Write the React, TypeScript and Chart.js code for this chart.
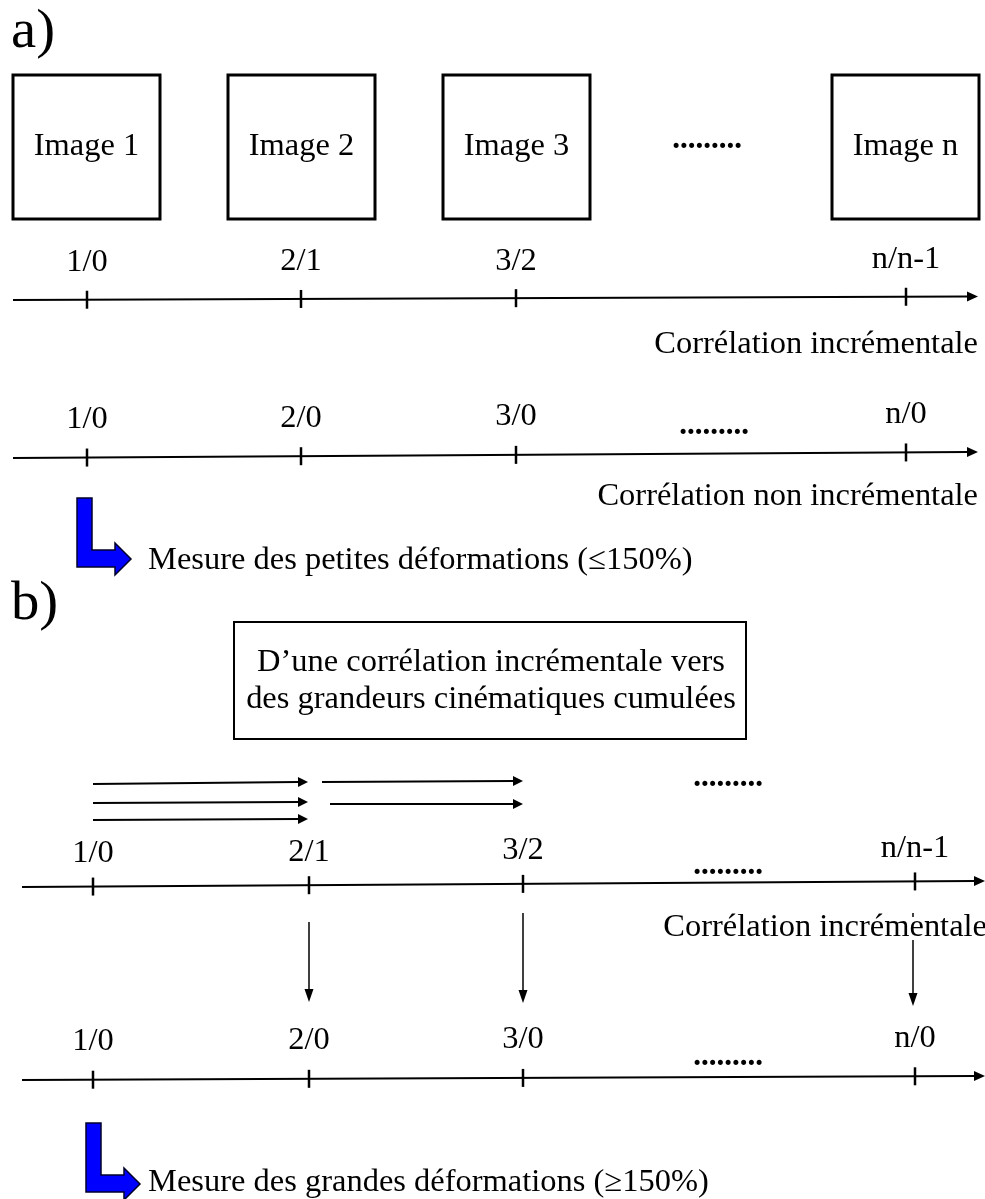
import React, { useEffect, useRef } from "react";
import { Chart, registerables } from "chart.js";

Chart.register(...registerables);

// ---- content ----
const imageLabels = ["Image 1", "Image 2", "Image 3", "Image n"];
const incrementalLabels = ["1/0", "2/1", "3/2", "n/n-1"];
const cumulativeLabels = ["1/0", "2/0", "3/0", "n/0"];
const axisTitles = ["Corrélation incrémentale", "Corrélation non incrémentale"];
const measureTexts = [
  "Mesure des petites déformations (\u2264150%)",
  "Mesure des grandes déformations (\u2265150%)",
];
const boxTextLines = [
  "D\u2019une corrélation incrémentale vers",
  "des grandeurs cinématiques cumulées",
];
const panelLetters = ["a)", "b)"];
const dots = ".........";

// ---- layout (diagram units = pixels of the 985x1199 page) ----
const aTickX = [87, 301, 516, 906];
const bTickX = [93, 309, 523, 915];
const boxLeft = [13, 228, 443, 832];

const FONT = "'Liberation Serif', 'DejaVu Serif', serif";
const TXT = 32;
const HSCALE = 1.015;

const diagramPlugin = {
  id: "diagram",
  afterDraw(chart: any) {
    const ctx: CanvasRenderingContext2D = chart.ctx;
    const xs = chart.scales.x;
    const ys = chart.scales.y;
    const X = (v: number) => xs.getPixelForValue(v);
    const Y = (v: number) => ys.getPixelForValue(v);

    const line = (x1: number, y1: number, x2: number, y2: number, w = 2) => {
      ctx.save();
      ctx.strokeStyle = "#000";
      ctx.lineWidth = w;
      ctx.beginPath();
      ctx.moveTo(X(x1), Y(y1));
      ctx.lineTo(X(x2), Y(y2));
      ctx.stroke();
      ctx.restore();
    };
    const arrow = (x1: number, y1: number, x2: number, y2: number, w = 2, len = 11, half = 5) => {
      const ang = Math.atan2(Y(y2) - Y(y1), X(x2) - X(x1));
      const bx = X(x2) - len * Math.cos(ang);
      const by = Y(y2) - len * Math.sin(ang);
      ctx.save();
      ctx.strokeStyle = "#000";
      ctx.lineWidth = w;
      ctx.beginPath();
      ctx.moveTo(X(x1), Y(y1));
      ctx.lineTo(bx, by);
      ctx.stroke();
      ctx.fillStyle = "#000";
      ctx.beginPath();
      ctx.moveTo(X(x2), Y(y2));
      ctx.lineTo(bx + half * Math.sin(ang), by - half * Math.cos(ang));
      ctx.lineTo(bx - half * Math.sin(ang), by + half * Math.cos(ang));
      ctx.closePath();
      ctx.fill();
      ctx.restore();
    };
    const text = (s: string, x: number, y: number, align: CanvasTextAlign = "center", size = TXT, weight = "normal", hs = HSCALE) => {
      ctx.save();
      ctx.fillStyle = "#000";
      ctx.font = `${weight} ${size}px ${FONT}`;
      ctx.textAlign = align;
      ctx.textBaseline = "middle";
      ctx.translate(X(x), Y(y));
      ctx.scale(hs, 1);
      ctx.fillText(s, 0, 0);
      ctx.restore();
    };
    const rect = (x1: number, y1: number, x2: number, y2: number, w: number) => {
      ctx.save();
      ctx.strokeStyle = "#000";
      ctx.lineWidth = w;
      ctx.strokeRect(X(x1), Y(y1), X(x2) - X(x1), Y(y2) - Y(y1));
      ctx.restore();
    };
    const blueL = (dx: number, dy: number) => {
      const pts = [
        [77, 498], [92, 498], [92, 550], [115, 550], [115, 543],
        [131, 559], [115, 575], [115, 567], [77, 567],
      ];
      ctx.save();
      ctx.beginPath();
      pts.forEach(([px, py], i) => {
        if (i === 0) ctx.moveTo(X(px + dx), Y(py + dy));
        else ctx.lineTo(X(px + dx), Y(py + dy));
      });
      ctx.closePath();
      ctx.fillStyle = "#0000ff";
      ctx.fill();
      ctx.strokeStyle = "#00002a";
      ctx.lineWidth = 1.5;
      ctx.stroke();
      ctx.restore();
    };
    // axis with ticks and labels (slightly sloped as in the original)
    const axis = (x0: number, y0: number, x1: number, y1: number, ticks: number[], labels: string[], labelDy: number) => {
      arrow(x0, y0, x1, y1, 2, 11, 5);
      const yAt = (x: number) => y0 + ((y1 - y0) * (x - x0)) / (x1 - x0);
      ticks.forEach((tx, i) => {
        const ty = yAt(tx);
        line(tx, ty - 9, tx, ty + 9, 2.5);
        text(labels[i], tx, ty + labelDy);
      });
    };

    // ===== panel a =====
    text(panelLetters[0], 11, 33, "left", 54, "normal", 1.05);
    boxLeft.forEach((bl, i) => {
      rect(bl, 75, bl + 147, 219, 3);
      text(imageLabels[i], bl + 73.5, 147);
    });
    text(dots, 707, 140, "center", 31, "bold", 1);

    axis(13, 300, 978, 296.5, aTickX, incrementalLabels, -37);
    text(axisTitles[0], 978, 345, "right");

    axis(13, 458, 978, 452, aTickX, cumulativeLabels, -38);
    text(dots, 714, 426, "center", 31, "bold", 1);
    text(axisTitles[1], 978, 497, "right");

    blueL(0, 0);
    text(measureTexts[0], 148, 561, "left");

    // ===== panel b =====
    text(panelLetters[1], 11, 605, "left", 54, "normal", 1.05);
    rect(234, 622, 746, 739, 2);
    text(boxTextLines[0], 491, 663);
    text(boxTextLines[1], 491, 700);

    // incremental displacement arrows
    arrow(93, 784, 308, 782, 2, 10, 5);
    arrow(93, 803, 308, 802, 2, 10, 5);
    arrow(93, 820, 308, 819, 2, 10, 5);
    arrow(322, 782, 523, 781, 2, 10, 5);
    arrow(330, 804, 523, 804, 2, 10, 5);
    text(dots, 728, 778, "center", 31, "bold", 1);

    axis(22, 887, 985, 881, bTickX, incrementalLabels, -33);
    text(dots, 728, 866, "center", 31, "bold", 1);
    text(axisTitles[0], 987, 928, "right");

    // projections onto the cumulated axis
    arrow(309, 922, 309, 1002, 1.5, 13, 4.5);
    arrow(523, 913, 523, 1003, 1.5, 13, 4.5);
    line(913, 913, 913, 917, 1.5);
    arrow(913, 940, 913, 1006, 1.5, 13, 4.5);

    axis(22, 1080, 985, 1076, bTickX, cumulativeLabels, -38);
    text(dots, 728, 1057, "center", 31, "bold", 1);

    blueL(9, 625);
    text(measureTexts[1], 148, 1183, "left");
  },
};

export default function App() {
  const ref = useRef<HTMLCanvasElement | null>(null);
  useEffect(() => {
    if (!ref.current) return;
    const chart = new Chart(ref.current, {
      type: "scatter",
      data: { datasets: [{ data: [], pointRadius: 0 }] },
      options: {
        responsive: false,
        animation: false,
        layout: { padding: 0 },
        plugins: { legend: { display: false }, tooltip: { enabled: false } },
        scales: {
          x: { type: "linear", min: 0, max: 985, display: false },
          y: { type: "linear", min: 0, max: 1199, reverse: true, display: false },
        },
      },
      plugins: [diagramPlugin],
    });
    return () => chart.destroy();
  }, []);
  return (
    <div style={{ position: "absolute", left: 0, top: 0, width: 985, height: 1199, background: "#fff" }}>
      <canvas ref={ref} width={985} height={1199} style={{ display: "block" }} />
    </div>
  );
}
